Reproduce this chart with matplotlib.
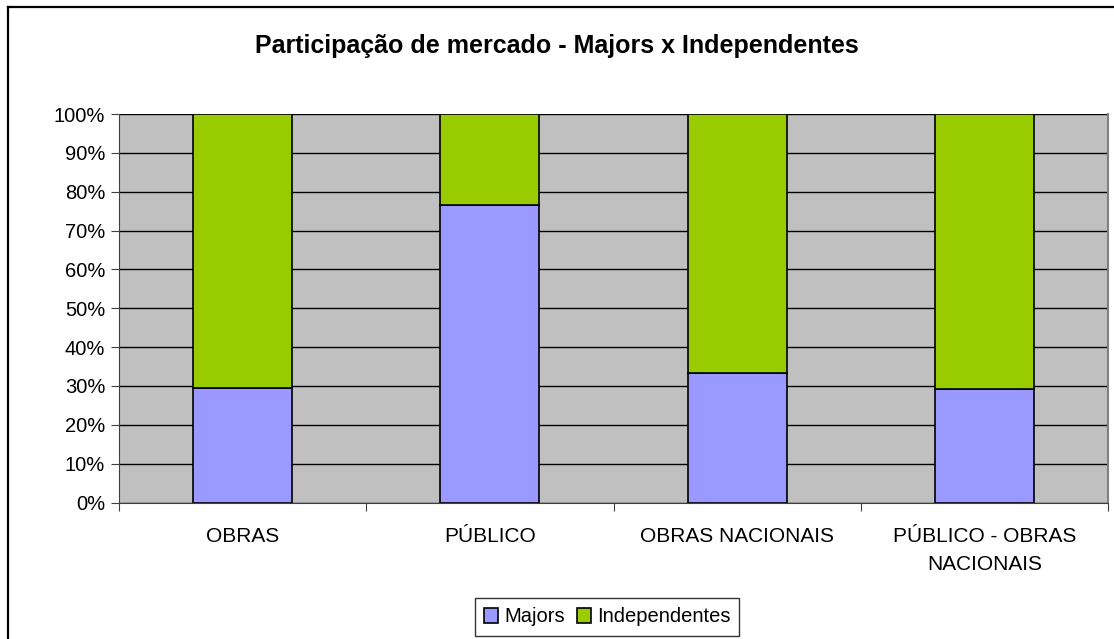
import matplotlib
matplotlib.use("Agg")
import matplotlib.pyplot as plt
from matplotlib.lines import Line2D
import numpy as np

categories = ["OBRAS", "PÚBLICO", "OBRAS NACIONAIS", "PÚBLICO - OBRAS\nNACIONAIS"]
majors = [29.5, 76.6, 33.3, 29.1]
independentes = [100 - v for v in majors]
yticks = list(range(0, 101, 10))

plt.rcParams['font.family'] = ['Liberation Sans', 'DejaVu Sans']

W, H = 1114, 639
fig = plt.figure(figsize=(W / 100, H / 100), dpi=100)
# chart-area border: only top and left edges lie inside the image
fig.lines.append(Line2D([7.5 / W, 7.5 / W], [0, 1 - 6.5 / H], transform=fig.transFigure,
                        color='black', linewidth=1.6))
fig.lines.append(Line2D([7.5 / W, 1], [1 - 6.5 / H, 1 - 6.5 / H], transform=fig.transFigure,
                        color='black', linewidth=1.6))

ax = fig.add_axes([119 / W, 1 - 502.5 / H, (1108 - 119) / W, (502.5 - 114) / H])
ax.set_facecolor('#C0C0C0')
x = np.arange(len(categories))
w = 0.4
ax.bar(x, majors, w, color='#9999FF', edgecolor='black', linewidth=1.2, label='Majors', zorder=3)
ax.bar(x, independentes, w, bottom=majors, color='#99CC00', edgecolor='black', linewidth=1.2,
       label='Independentes', zorder=3)

ax.set_xlim(-0.5, len(categories) - 0.5)
ax.set_ylim(0, 100)
ax.set_yticks(yticks)
ax.set_yticklabels([f"{t}%" for t in yticks], fontsize=14.5)
ax.yaxis.grid(True, color='black', linewidth=1.0, zorder=1)
ax.set_axisbelow(True)
ax.set_xticks(np.arange(-0.5, len(categories), 1.0), minor=False)
ax.set_xticklabels([])
ax.set_xticks(x, minor=True)
ax.set_xticklabels(categories, minor=True, fontsize=15, linespacing=1.6)
ax.tick_params(axis='x', which='minor', length=0, pad=18)
ax.tick_params(axis='x', which='major', length=6, direction='out', color='#404040')
ax.tick_params(axis='y', length=6, direction='out', color='#404040', pad=4)
ax.spines['top'].set_visible(False)
ax.spines['right'].set_color('#808080')
ax.spines['right'].set_linewidth(1.5)
ax.spines['left'].set_color('#404040')
ax.spines['bottom'].set_color('#404040')

fig.text(0.5, 1 - 46 / H, "Participação de mercado - Majors x Independentes", ha='center',
         va='center', fontsize=18, fontweight='bold')

leg = fig.legend(loc='center', bbox_to_anchor=(607 / W, 1 - 617 / H), ncol=2, fontsize=14.5,
                 frameon=True, fancybox=False, edgecolor='black', handlelength=0.7,
                 handleheight=0.7, handletextpad=0.3, columnspacing=0.6, borderpad=0.45)
leg.get_frame().set_linewidth(1.0)

fig.savefig("out.png", dpi=100)
